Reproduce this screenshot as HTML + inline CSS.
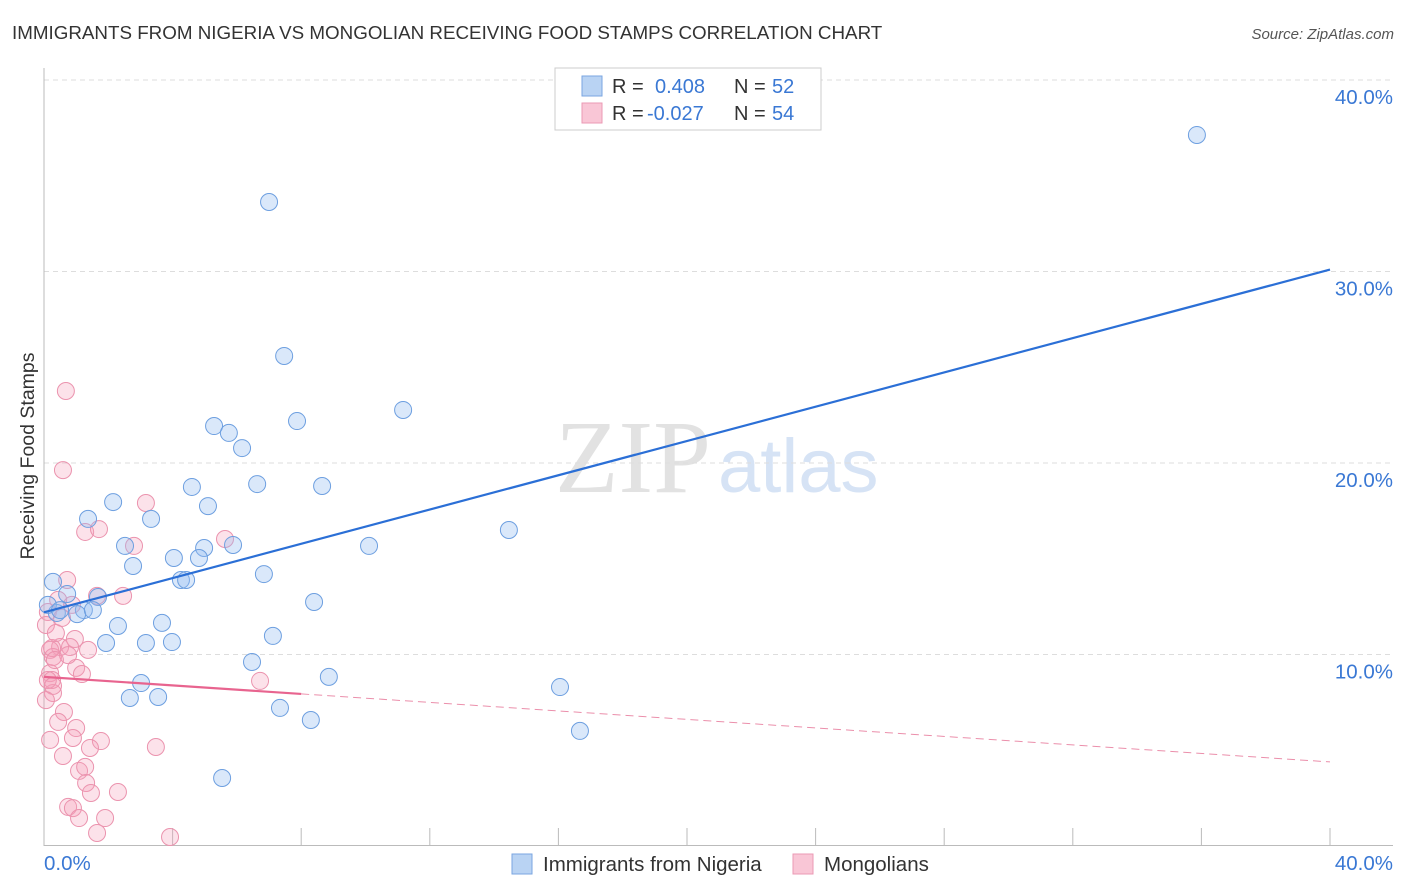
<!DOCTYPE html>
<html><head><meta charset="utf-8"><style>
body{margin:0;background:#fff;font-family:"Liberation Sans",sans-serif;}
svg{display:block}
</style></head><body>
<svg id="chart" width="1406" height="892" xmlns="http://www.w3.org/2000/svg">
<text x="12" y="39" font-size="18.8" fill="#333">IMMIGRANTS FROM NIGERIA VS MONGOLIAN RECEIVING FOOD STAMPS CORRELATION CHART</text>
<text x="1394" y="39" font-size="15" fill="#555" font-style="italic" text-anchor="end">Source: ZipAtlas.com</text>
<g>
<text x="555" y="492" font-size="104" font-family="Liberation Serif,serif" fill="#e2e2e2">ZIP</text>
<text x="718" y="492" font-size="76" fill="#d6e3f5">atlas</text>
</g>
<g id="grid"></g>
<g id="axes"></g>
<g id="pts"></g>
<g id="trend"></g>
<text x="34" y="456" font-size="19.5" fill="#333" text-anchor="middle" transform="rotate(-90 34 456)">Receiving Food Stamps</text>
<text x="44" y="870" font-size="20.5" fill="#3a78d4">0.0%</text>
<text x="1393" y="870" font-size="20.5" fill="#3a78d4" text-anchor="end">40.0%</text>
<g>
<rect x="555" y="68" width="266" height="62" fill="#fff" stroke="#ccc"/>
<rect x="582" y="76" width="20" height="20" fill="#b9d3f3" stroke="#7aa6e0"/>
<rect x="582" y="103" width="20" height="20" fill="#f9c6d6" stroke="#eb9ab4"/>
<text x="612" y="93" font-size="20" fill="#333">R =</text>
<text x="655" y="93" font-size="20" fill="#3a78d4">0.408</text>
<text x="734" y="93" font-size="20" fill="#333">N =</text>
<text x="772" y="93" font-size="20" fill="#3a78d4">52</text>
<text x="612" y="120" font-size="20" fill="#333">R =</text>
<text x="647" y="120" font-size="20" fill="#3a78d4">-0.027</text>
<text x="734" y="120" font-size="20" fill="#333">N =</text>
<text x="772" y="120" font-size="20" fill="#3a78d4">54</text>
</g>
<g>
<rect x="512" y="854" width="20" height="20" fill="#b9d3f3" stroke="#7aa6e0"/>
<text x="543" y="871" font-size="20.5" fill="#333">Immigrants from Nigeria</text>
</g>
<g>
<rect x="793" y="854" width="20" height="20" fill="#f9c6d6" stroke="#eb9ab4"/>
<text x="824" y="871" font-size="20.5" fill="#333">Mongolians</text>
</g>
</svg>
<script>
const yTicks=[10,20,30,40];
const yTickLabels=["10.0%","20.0%","30.0%","40.0%"];
const xTicks=[0,4,8,12,16,20,24,28,32,36,40];
const blueX=[35.86,7.00,7.47,11.17,7.87,5.29,5.75,6.16,4.60,6.63,8.65,5.10,2.15,1.37,3.33,14.46,2.52,4.04,4.98,5.88,10.11,4.82,2.77,6.84,4.26,4.42,0.28,0.72,1.68,8.40,3.67,2.30,7.12,1.93,3.17,3.98,1.24,1.03,1.52,0.40,6.47,8.86,16.05,3.02,2.67,3.55,7.34,8.30,16.67,5.54,0.12,0.50];
const blueY=[37.13,33.63,25.59,22.77,22.19,21.93,21.57,20.78,18.75,18.90,18.80,17.75,17.96,17.08,17.08,16.50,15.67,15.04,15.56,15.72,15.67,15.04,14.62,14.20,13.89,13.89,13.79,13.16,13.00,12.74,11.65,11.49,10.97,10.60,10.60,10.65,12.32,12.11,12.32,12.17,9.61,8.83,8.30,8.51,7.73,7.78,7.21,6.58,6.01,3.55,12.59,12.32];
const pinkX=[0.68,0.59,3.17,1.28,1.71,2.80,5.63,0.72,1.65,2.46,0.96,0.50,0.19,0.28,0.81,0.19,1.00,1.18,0.28,0.25,6.72,0.62,0.44,1.00,0.90,1.77,1.43,3.48,0.59,1.09,1.28,1.31,1.46,2.30,0.75,0.90,1.09,1.90,1.65,3.92,0.12,0.06,0.25,0.34,0.12,0.28,0.44,0.56,0.06,0.75,0.19,0.37,0.87,1.37];
const pinkY=[23.76,19.63,17.91,16.40,16.55,15.67,16.03,13.89,13.06,13.06,10.81,10.39,10.24,9.87,10.39,9.03,9.30,8.98,7.99,8.67,8.62,7.00,6.48,6.16,5.64,5.48,5.12,5.17,4.70,3.92,4.13,3.29,2.77,2.82,2.04,1.98,1.46,1.46,0.68,0.47,12.22,11.54,10.34,9.71,8.67,8.36,12.85,11.91,7.62,9.97,5.54,11.12,12.59,10.24];
const blueTrend=[12.2,30.1];
const pinkTrend=[8.83,4.39];
const pinkSolidEnd=8;
const NS="http://www.w3.org/2000/svg";
const X=v=>44+v*(1286/40);
const Y=v=>846-v*19.15;
function mk(tag,attrs,parent){const e=document.createElementNS(NS,tag);for(const k in attrs)e.setAttribute(k,attrs[k]);document.getElementById(parent).appendChild(e);return e;}
yTicks.forEach((t,i)=>{
 const l=mk('line',{x1:44,x2:1393,y1:Y(t),y2:Y(t),stroke:'#ddd','stroke-dasharray':'5,4'},'grid');
 
 
 const tx=mk('text',{x:1393,y:Y(t)+24,'font-size':20.5,fill:'#3a78d4','text-anchor':'end'},'grid');
 tx.textContent=yTickLabels[i];
 
 
});
let a=mk('line',{x1:44,x2:44,y1:68,y2:846,stroke:'#bbb'},'axes');


a=mk('line',{x1:44,x2:1393,y1:845.5,y2:845.5,stroke:'#bbb'},'axes');


xTicks.forEach(t=>{
 const l=mk('line',{x1:X(t),x2:X(t),y1:828,y2:846,stroke:'#bbb'},'axes');
 
 
});
pinkX.forEach((v,i)=>{
 const c=mk('circle',{cx:X(v),cy:Y(pinkY[i]),r:8.5,fill:'rgba(244,160,185,0.3)',stroke:'#eb93ae','stroke-width':1},'pts');
 
 
});
blueX.forEach((v,i)=>{
 const c=mk('circle',{cx:X(v),cy:Y(blueY[i]),r:8.5,fill:'rgba(150,190,240,0.35)',stroke:'#6d9fe0','stroke-width':1},'pts');
 
 
});
let t=mk('line',{x1:X(0),y1:Y(blueTrend[0]),x2:X(40),y2:Y(blueTrend[1]),stroke:'#2b6fd6','stroke-width':2.2},'trend');


const pAt=x=>pinkTrend[0]+(pinkTrend[1]-pinkTrend[0])*x/40;
t=mk('line',{x1:X(0),y1:Y(pAt(0)),x2:X(pinkSolidEnd),y2:Y(pAt(pinkSolidEnd)),stroke:'#e8648f','stroke-width':2.2},'trend');


t=mk('line',{x1:X(pinkSolidEnd),y1:Y(pAt(pinkSolidEnd)),x2:X(40),y2:Y(pAt(40)),stroke:'#eb8fab','stroke-width':1,'stroke-dasharray':'8,5'},'trend');


</script>
</body></html>
